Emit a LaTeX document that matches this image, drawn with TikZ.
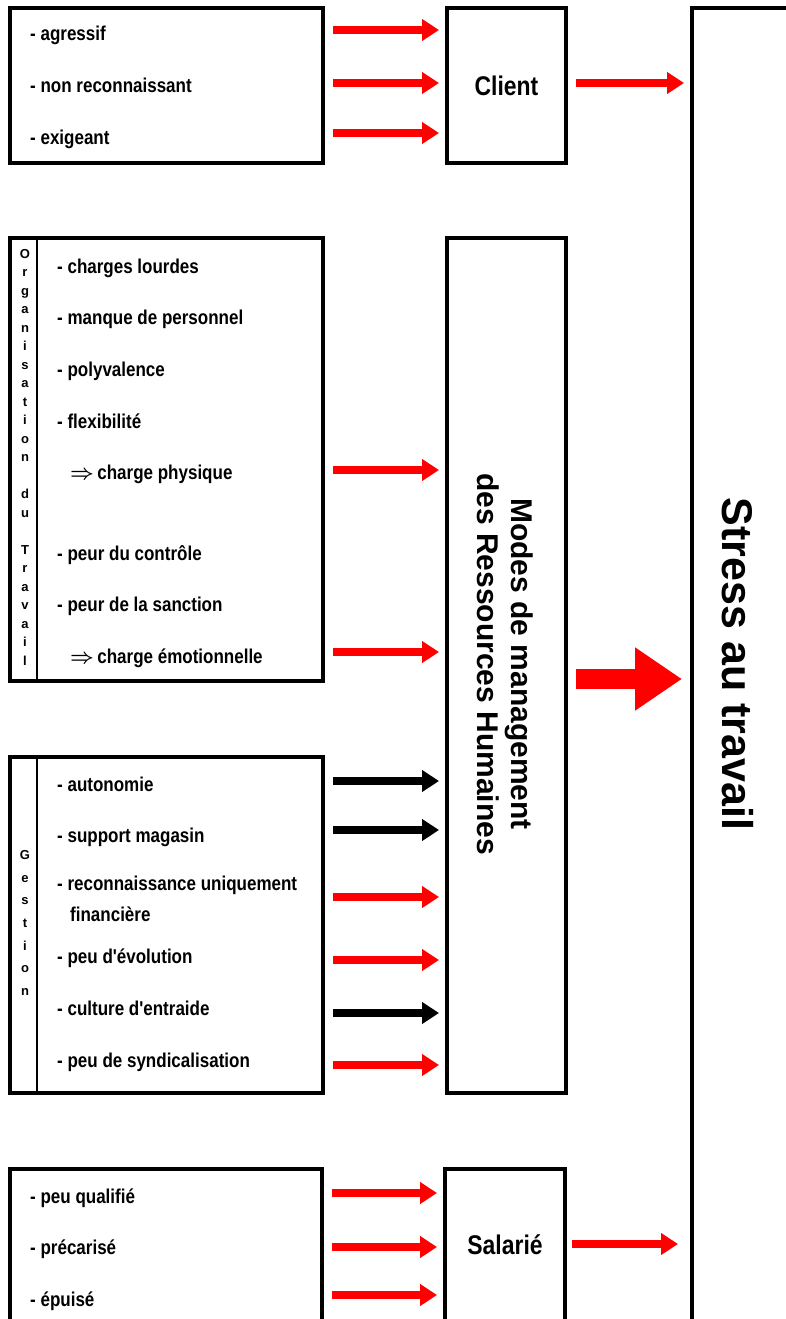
\documentclass[tikz,border=0pt]{standalone}
\usepackage{fontspec}
\setmainfont{Liberation Sans}
\newfontfamily\itemfont[FakeStretch=0.85]{Liberation Sans}
\usetikzlibrary{arrows.meta,calc}
\tikzset{
	box/.style={draw, line width=4pt, inner sep=0pt, outer sep=0pt, anchor=north west},
	item/.style={anchor=base west, inner sep=0pt, font=\itemfont\bfseries\fontsize{20}{24}\selectfont},
	boxname/.style={font=\itemfont\bfseries\fontsize{27}{30}\selectfont},
	column/.style={align=center, inner sep=0pt, font=\bfseries\fontsize{13}{#1}\selectfont},
	redarrow/.style={draw=red, line width=8pt, -{Triangle[length=17pt,width=21pt]}, shorten <=10pt, shorten >=8pt},
	blackarrow/.style={redarrow, draw=black},
	bigarrow/.style={draw=red, line width=20pt, -{Triangle[length=47pt,width=60pt]}, shorten <=10pt, shorten >=10pt}
}
\newcommand{\impl}{{\boldmath$\Rightarrow$}}

\begin{document}
\begin{tikzpicture}[x=1pt, y=-1pt]
			%%%%% START %%%%%
			\path[use as bounding box, clip] (0,0) rectangle (786,1319);
			
			% boxes
			\node[box, minimum width=313pt, minimum height=155pt] (clientcauses) at (10,8) {};
			\node[box, boxname, minimum width=119pt, minimum height=155pt] (client) at (447,8) {Client};
			\node[box, minimum width=300pt, minimum height=1400pt] (stress) at (692,8) {};
			\node[box, minimum width=313pt, minimum height=443pt] (org) at (10,238) {};
			\node[box, minimum width=119pt, minimum height=855pt] (mrh) at (447,238) {};
			\node[box, minimum width=313pt, minimum height=336pt] (gest) at (10,757) {};
			\node[box, minimum width=312pt, minimum height=300pt] (salcauses) at (10,1169) {};
			\node[box, minimum width=120pt, minimum height=300pt] (sal) at (445,1169) {};
			
			\draw[line width=2pt] ($(org.north west)+(27,0)$) -- ($(org.south west)+(27,0)$);
			\draw[line width=2pt] ($(gest.north west)+(27,0)$) -- ($(gest.south west)+(27,0)$);
			
			% big titles
			\node[rotate=-90, font=\bfseries\fontsize{43}{50}\selectfont] (stresstext) at (738,664) {Stress au travail};
			\node[rotate=-90, align=center, font=\bfseries\fontsize{30}{34}\selectfont] (mrhtext) at (505,664) {Modes de management\\des Ressources Humaines};
			\node[boxname] (saltext) at (505,1245) {Salari\'e};
			
			% vertical words
			\node[column=18.5pt] (orgword) at (25,457) {O\\r\\g\\a\\n\\i\\s\\a\\t\\i\\o\\n\\~\\d\\u\\~\\T\\r\\a\\v\\a\\i\\l};
			\node[column=22.6pt] (gestword) at (25,923) {G\\e\\s\\t\\i\\o\\n};
			
			% client items
			\node[item] (c1) at (30,41) {- agressif};
			\node[item] (c2) at (30,93) {- non reconnaissant};
			\node[item] (c3) at (30,144) {- exigeant};
			
			% organisation items
			\node[item] (o1) at (57,273) {- charges lourdes};
			\node[item] (o2) at (57,324) {- manque de personnel};
			\node[item] (o3) at (57,376) {- polyvalence};
			\node[item] (o4) at (57,428) {- flexibilit\'e};
			\node[item] (o5) at (70,479) {\impl\,charge physique};
			\node[item] (o6) at (57,560) {- peur du contr\^ole};
			\node[item] (o7) at (57,611) {- peur de la sanction};
			\node[item] (o8) at (70,663) {\impl\,charge \'emotionnelle};
			
			% gestion items
			\node[item] (g1) at (57,791) {- autonomie};
			\node[item] (g2) at (57,842) {- support magasin};
			\node[item] (g3) at (57,890) {- reconnaissance uniquement};
			\node[item] (g4) at (70,921) {financi\`ere};
			\node[item] (g5) at (57,963) {- peu d'\'evolution};
			\node[item] (g6) at (57,1015) {- culture d'entraide};
			\node[item] (g7) at (57,1067) {- peu de syndicalisation};
			
			% salarie items
			\node[item] (s1) at (30,1203) {- peu qualifi\'e};
			\node[item] (s2) at (30,1254) {- pr\'ecaris\'e};
			\node[item] (s3) at (30,1306) {- \'epuis\'e};
			
			% arrow rows
			\coordinate (ac1) at (0,30);
			\coordinate (ac2) at (0,83);
			\coordinate (ac3) at (0,133);
			\coordinate (ao1) at (0,470);
			\coordinate (ao2) at (0,652);
			\coordinate (ag1) at (0,781);
			\coordinate (ag2) at (0,830);
			\coordinate (ag3) at (0,897);
			\coordinate (ag4) at (0,960);
			\coordinate (ag5) at (0,1013);
			\coordinate (ag6) at (0,1065);
			\coordinate (as1) at (0,1193);
			\coordinate (as2) at (0,1247);
			\coordinate (as3) at (0,1295);
			\coordinate (amain) at (0,679);
			\coordinate (asal) at (0,1244);
			
			\draw[redarrow] (clientcauses.east |- ac1) -- (client.west |- ac1);
			\draw[redarrow] (clientcauses.east |- ac2) -- (client.west |- ac2);
			\draw[redarrow] (clientcauses.east |- ac3) -- (client.west |- ac3);
			\draw[redarrow] (client.east |- ac2) -- (stress.west |- ac2);
			
			\draw[redarrow] (org.east |- ao1) -- (mrh.west |- ao1);
			\draw[redarrow] (org.east |- ao2) -- (mrh.west |- ao2);
			
			\draw[blackarrow] (gest.east |- ag1) -- (mrh.west |- ag1);
			\draw[blackarrow] (gest.east |- ag2) -- (mrh.west |- ag2);
			\draw[redarrow] (gest.east |- ag3) -- (mrh.west |- ag3);
			\draw[redarrow] (gest.east |- ag4) -- (mrh.west |- ag4);
			\draw[blackarrow] (gest.east |- ag5) -- (mrh.west |- ag5);
			\draw[redarrow] (gest.east |- ag6) -- (mrh.west |- ag6);
			
			\draw[bigarrow] (mrh.east |- amain) -- (stress.west |- amain);
			
			\draw[redarrow] (salcauses.east |- as1) -- (sal.west |- as1);
			\draw[redarrow] (salcauses.east |- as2) -- (sal.west |- as2);
			\draw[redarrow] (salcauses.east |- as3) -- (sal.west |- as3);
			\draw[redarrow, shorten <=7pt, shorten >=14pt] (sal.east |- asal) -- (stress.west |- asal);
			
			%%%%% END %%%%%
\end{tikzpicture}
\end{document}
